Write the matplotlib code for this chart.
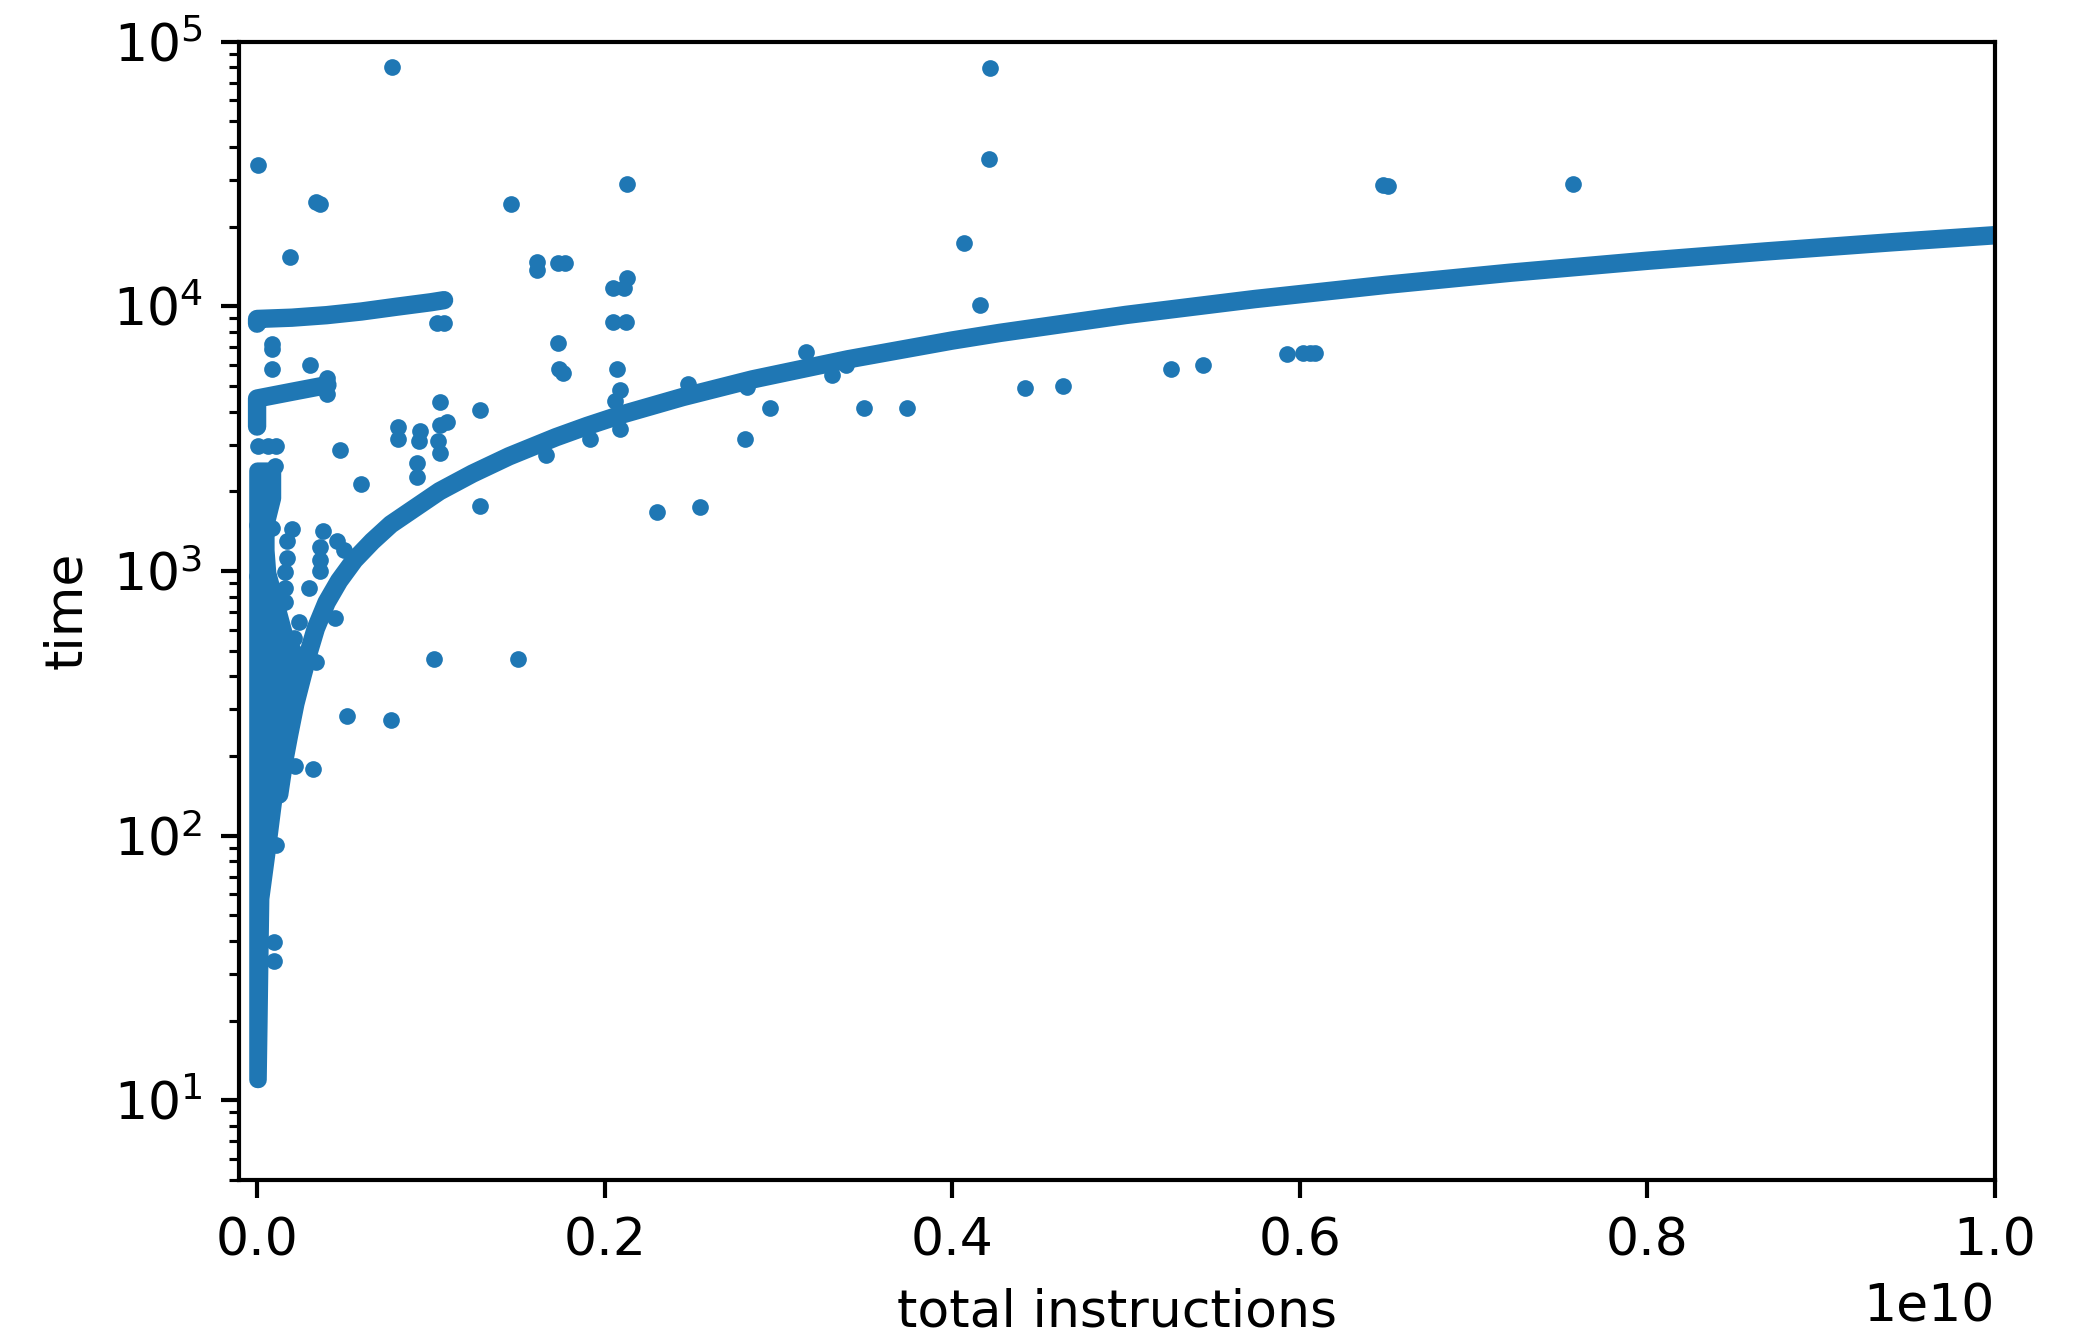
import matplotlib
matplotlib.use("Agg")
import matplotlib.pyplot as plt
import numpy as np

C = "#1f77b4"
DPI = 375

# main curve (x in units of 1e10 instructions, y = time)
curve_x = [0.0127, 0.0155, 0.0184, 0.022, 0.0261, 0.030, 0.0338, 0.040, 0.0472, 0.056,
           0.0663, 0.077, 0.0894, 0.105, 0.1239, 0.145, 0.172, 0.190, 0.210, 0.245,
           0.285, 0.340, 0.400, 0.4275, 0.500, 0.574, 0.650, 0.721, 0.800, 0.868,
           0.940, 1.000]
curve_y = [143, 190, 240, 315, 401, 500, 606, 760, 917, 1100,
           1294, 1500, 1704, 2000, 2330, 2710, 3200, 3530, 3900, 4540,
           5290, 6300, 7420, 7930, 9270, 10640, 12050, 13380, 14850, 16100,
           17430, 18540]

# upper band near 1e4
band1_x = [0.0, 0.0, 0.02, 0.04, 0.06, 0.08, 0.10, 0.1076]
band1_y = [8590, 8950, 9050, 9250, 9550, 9950, 10350, 10540]

# band near 4.5e3
band2_x = [0.0, 0.0, 0.0, 0.02, 0.0405]
band2_y = [3510, 4000, 4480, 4750, 5040]

# dense cluster near zero: envelope of the dot centres
core_y  = [12, 20, 35, 58, 91, 143, 200, 284, 401, 460, 565, 747, 983, 1200, 1500, 1890, 2400]
core_xl = [0.0] * len(core_y)
core_xr = [0.0005, 0.001, 0.0015, 0.002, 0.006, 0.0098, 0.0136, 0.0155, 0.0213, 0.024,
           0.016, 0.011, 0.006, 0.005, 0.005, 0.0088, 0.0088]

# individual points
pts_x = [0.0778, 0.422, 0.421, 0.0005, 0.2127, 0.648, 0.651, 0.757, 0.034, 0.036,
         0.146, 0.019, 0.161, 0.161, 0.173, 0.177, 0.407, 0.416, 0.2127, 0.205,
         0.211, 0.205, 0.212, 0.173, 0.174, 0.176, 0.207, 0.209, 0.206, 0.128,
         0.105, 0.0813, 0.0813, 0.094, 0.093, 0.105, 0.109, 0.104, 0.105, 0.048,
         0.0597, 0.092, 0.092, 0.128, 0.230, 0.255, 0.281, 0.295, 0.316, 0.331,
         0.349, 0.374, 0.442, 0.4635, 0.526, 0.544, 0.5926, 0.602, 0.606, 0.609,
         0.102, 0.150, 0.052, 0.077, 0.022, 0.032, 0.0107, 0.0098, 0.0098, 0.0088,
         0.0088, 0.0088, 0.0305, 0.0006, 0.006, 0.011, 0.0104, 0.020, 0.038, 0.046,
         0.050, 0.036, 0.036, 0.036, 0.017, 0.017, 0.016, 0.016, 0.016, 0.030,
         0.005, 0.0, 0.003, 0.003, 0.0, 0.0088, 0.045, 0.034, 0.1076, 0.1036,
         0.0405, 0.0405, 0.166, 0.1916, 0.209, 0.248, 0.282, 0.339, 0.024, 0.021]
pts_y = [80400, 79400, 36100, 34100, 28900, 28700, 28500, 29000, 24700, 24300,
         24300, 15400, 14700, 13700, 14500, 14500, 17300, 10100, 12800, 11700,
         11700, 8730, 8730, 7230, 5800, 5600, 5810, 4810, 4380, 4065,
         4340, 3500, 3160, 3390, 3090, 3550, 3650, 3090, 2800, 2860,
         2130, 2550, 2260, 1755, 1668, 1742, 3160, 4140, 6710, 5480,
         4140, 4140, 4890, 5010, 5810, 6000, 6580, 6650, 6650, 6650,
         466, 466, 282, 273, 184, 178, 92, 39.5, 33.6, 7220,
         6870, 5800, 5980, 2957, 2957, 2957, 2495, 1445, 1420, 1300,
         1200, 1230, 1100, 1000, 1300, 1120, 990, 860, 760, 860,
         870, 960, 1180, 1090, 1490, 1450, 663, 452, 8660, 8660,
         5350, 4660, 2730, 3160, 3450, 5100, 4960, 5980, 640, 560]

SCALE = 1e10
PX = 72.0 / DPI          # one pixel in points
D = 16.7 * PX            # dot diameter in points

fig = plt.figure(figsize=(2085 / DPI, 1331 / DPI), dpi=DPI)
ax = fig.add_axes([239 / 2085, 1 - 1180 / 1331, (1995 - 239) / 2085, (1180 - 41.5) / 1331])

ax.fill_betweenx(core_y, np.array(core_xl) * SCALE, np.array(core_xr) * SCALE,
                 facecolor=C, edgecolor=C, linewidth=D, joinstyle="round")
ax.plot(np.array(curve_x) * SCALE, curve_y, color=C, lw=18.5 * PX,
        solid_capstyle="round", solid_joinstyle="round")
ax.plot(np.array(band1_x) * SCALE, band1_y, color=C, lw=D * 1.1,
        solid_capstyle="round", solid_joinstyle="round")
ax.plot(np.array(band2_x) * SCALE, band2_y, color=C, lw=D * 1.1,
        solid_capstyle="round", solid_joinstyle="round")
ax.plot(np.array(pts_x) * SCALE, pts_y, "o", color=C, ms=D, mew=0)

ax.set_yscale("log")
ax.set_xlim(-1.04e8, 1e10)
ax.set_ylim(5, 1e5)
ax.set_xlabel("total instructions")
ax.set_ylabel("time")

fig.savefig("out.png", dpi=DPI)
